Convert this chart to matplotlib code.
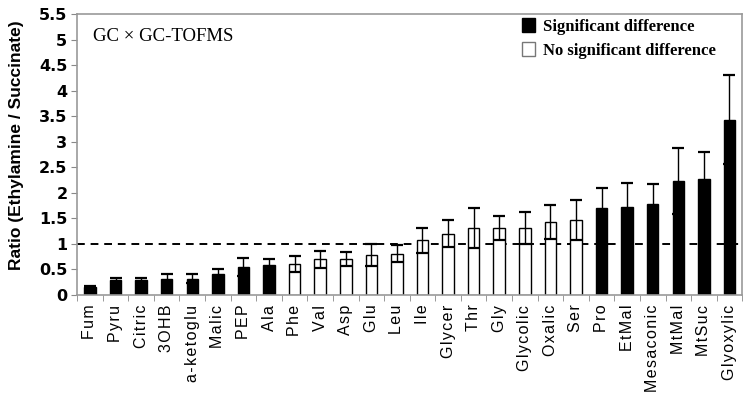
"""GC x GC-TOFMS ratio bar chart (Ethylamine / Succinate)."""
import numpy as np
import matplotlib
matplotlib.use("Agg")
import matplotlib.pyplot as plt
from matplotlib.patches import Patch

# --- data ------------------------------------------------------------------
metabolites = ["Fum", "Pyru", "Citric", "3OHB", "a-ketoglu", "Malic", "PEP",
               "Ala", "Phe", "Val", "Asp", "Glu", "Leu", "Ile", "Glycer",
               "Thr", "Gly", "Glycolic", "Oxalic", "Ser", "Pro", "EtMal",
               "Mesaconic", "MtMal", "MtSuc", "Glyoxylic"]
ratio = [0.15, 0.30, 0.30, 0.32, 0.32, 0.41, 0.55, 0.58, 0.61, 0.70, 0.70,
         0.78, 0.81, 1.07, 1.20, 1.31, 1.31, 1.31, 1.43, 1.47, 1.70, 1.73,
         1.78, 2.23, 2.28, 3.43]
err = [0.02, 0.04, 0.04, 0.09, 0.09, 0.09, 0.18, 0.13, 0.16, 0.17, 0.14,
       0.21, 0.16, 0.24, 0.26, 0.39, 0.23, 0.32, 0.34, 0.39, 0.40, 0.47,
       0.39, 0.64, 0.52, 0.87]
significant = [True] * 8 + [False] * 12 + [True] * 6

HAIR = "\u200a"  # letter spacing like the original


def spaced(s):
    return HAIR.join(s)


fig = plt.figure(figsize=(7.49, 4.03), dpi=100)
ax = fig.add_axes([0.103, 0.268, 0.888, 0.697])

x = np.arange(len(metabolites))
colors = ["black" if s else "white" for s in significant]
ax.bar(x, ratio, width=0.45, color=colors, edgecolor="black", linewidth=1.0,
       zorder=2)
ax.errorbar(x, ratio, yerr=err, fmt="none", ecolor="black", elinewidth=1.0,
            capsize=4, capthick=1.6, zorder=3)
ax.axhline(1.0, color="black", linestyle=(0, (4, 3)), linewidth=1.4, zorder=1)

ax.set_xlim(-0.5, len(metabolites) - 0.5)
ax.set_ylim(0, 5.5)
yt = np.arange(0, 5.51, 0.5)
ax.set_yticks(yt)
ax.set_yticklabels([f"{v:g}" for v in yt], fontsize=11.5, fontweight="bold",
                   family="Liberation Sans Narrow")
ax.set_xticks(x)
ax.set_xticklabels([spaced(m) for m in metabolites], rotation=90, fontsize=11.5,
                   family="Liberation Sans")
ax.tick_params(axis="x", length=0, pad=7)
ax.set_xticks(np.arange(-0.5, len(metabolites), 1), minor=True)
ax.tick_params(axis="x", which="minor", length=4, color="#888888")
ax.tick_params(axis="y", length=4, color="#888888", pad=3)

for sp in ax.spines.values():
    sp.set_color("#999999")
    sp.set_linewidth(1.2)

ax.set_ylabel("Ratio (Ethylamine / Succinate)", fontsize=12.5,
              fontweight="bold", family="Liberation Sans")
ax.yaxis.set_label_coords(-0.08, 0.535)

ax.text(0.024, 0.92, "GC × GC-TOFMS", transform=ax.transAxes,
        family="Liberation Serif", fontsize=13.5, va="center")

handles = [Patch(facecolor="black", edgecolor="black", label="Significant difference"),
           Patch(facecolor="white", edgecolor="#777777", label="No significant difference")]
ax.legend(handles=handles, loc="upper left", bbox_to_anchor=(0.646, 1.04),
          frameon=False, handlelength=0.8, handleheight=0.9, handletextpad=0.5,
          labelspacing=0.45, prop={"family": "Liberation Serif", "weight": "bold",
                                    "size": 12})

fig.savefig("out.png", dpi=100)
